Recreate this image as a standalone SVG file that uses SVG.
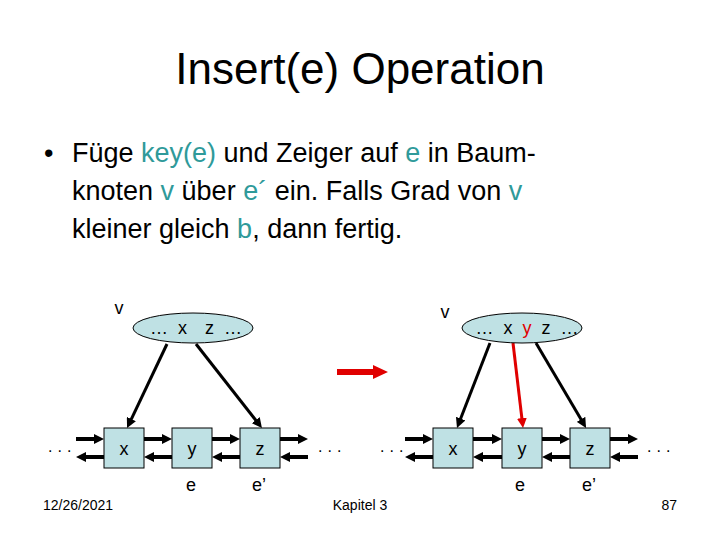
<svg xmlns="http://www.w3.org/2000/svg" width="720" height="540" viewBox="0 0 720 540">
<style>
text{font-family:"Liberation Sans",Arial,sans-serif;fill:#000}
.title{font-size:44px}
.body{font-size:27px}
.hl{fill:#2F9A9A}
.foot{font-size:14px}
.lbl{font-size:18px}
.en{font-size:18px;word-spacing:5px}
.dots{font-size:16px;letter-spacing:5px}
.node{fill:#BFE1E4;stroke:#000;stroke-width:1}
.la{stroke:#000;stroke-width:4;fill:none;marker-end:url(#ah)}
.ta{stroke:#000;stroke-width:3;fill:none;marker-end:url(#ah)}
.ra{stroke:#E00000;stroke-width:3;fill:none;marker-end:url(#ahr)}
</style>
<defs>
<marker id="ah" viewBox="0 0 10 10" markerWidth="10" markerHeight="10" markerUnits="userSpaceOnUse" refX="2" refY="5" orient="auto"><path d="M0,0 L10,5 L0,10 z" fill="#000"/></marker>
<marker id="ahr" viewBox="0 0 10 10" markerWidth="10" markerHeight="10" markerUnits="userSpaceOnUse" refX="2" refY="5" orient="auto"><path d="M0,0 L10,5 L0,10 z" fill="#E00000"/></marker>
</defs>
<rect width="720" height="540" fill="#fff"/>
<text class="title" x="360" y="84" text-anchor="middle">Insert(e) Operation</text>
<g class="body">
<text class="body" x="44" y="162">•</text>
<text class="body" x="72" y="162">Füge <tspan class="hl">key(e)</tspan> und Zeiger auf <tspan class="hl">e</tspan> in Baum-</text>
<text class="body" x="72" y="200">knoten <tspan class="hl">v</tspan> über <tspan class="hl">e´</tspan> ein. Falls Grad von <tspan class="hl">v</tspan></text>
<text class="body" x="72" y="238">kleiner gleich <tspan class="hl">b</tspan>, dann fertig.</text>
</g>
<g id="connectors">
<line class="la" x1="76" y1="439" x2="96" y2="439"/>
<line class="la" x1="144" y1="439" x2="164" y2="439"/>
<line class="la" x1="212" y1="439" x2="232" y2="439"/>
<line class="la" x1="280" y1="439" x2="300" y2="439"/>
<line class="la" x1="104" y1="457" x2="84" y2="457"/>
<line class="la" x1="172" y1="457" x2="152" y2="457"/>
<line class="la" x1="240" y1="457" x2="220" y2="457"/>
<line class="la" x1="308" y1="457" x2="288" y2="457"/>
<line class="ta" x1="167" y1="344" x2="130.5" y2="420.8"/>
<line class="ta" x1="196" y1="344" x2="257" y2="421.7"/>
<line class="la" x1="405" y1="439" x2="425" y2="439"/>
<line class="la" x1="473" y1="439" x2="494" y2="439"/>
<line class="la" x1="542" y1="439" x2="562" y2="439"/>
<line class="la" x1="610" y1="439" x2="630" y2="439"/>
<line class="la" x1="433" y1="457" x2="413" y2="457"/>
<line class="la" x1="502" y1="457" x2="481" y2="457"/>
<line class="la" x1="570" y1="457" x2="550" y2="457"/>
<line class="la" x1="638" y1="457" x2="618" y2="457"/>
<line class="ta" x1="490" y1="343" x2="459.9" y2="420.5"/>
<line class="ra" x1="513" y1="343" x2="522.1" y2="420.1"/>
<line class="ta" x1="536" y1="343" x2="582" y2="421.1"/>
</g>
<g id="v-left">
<ellipse class="node" cx="193" cy="328" rx="60" ry="15"/>
<text class="en" x="196" y="334" text-anchor="middle">… x <tspan dx="8">z</tspan> …</text>
<text class="lbl" x="119" y="314" text-anchor="middle">v</text>
</g>
<g id="x-left"><rect class="node" x="104" y="428" width="40" height="40"/><text class="lbl" x="124" y="455" text-anchor="middle">x</text></g>
<g id="y-left"><rect class="node" x="172" y="428" width="40" height="40"/><text class="lbl" x="192" y="455" text-anchor="middle">y</text><text class="lbl" x="191" y="491" text-anchor="middle">e</text></g>
<g id="z-left"><rect class="node" x="240" y="428" width="40" height="40"/><text class="lbl" x="260" y="455" text-anchor="middle">z</text><text class="lbl" x="259" y="491" text-anchor="middle">e’</text></g>
<text class="dots" x="48" y="452">...</text>
<text class="dots" x="318" y="452">...</text>
<polygon points="337,369 373,369 373,365 388,372 373,379 373,375 337,375" fill="#E00000"/>
<g id="v-right">
<ellipse class="node" cx="522" cy="328" rx="60" ry="15"/>
<text class="en" x="527" y="334" text-anchor="middle">… x <tspan fill="#E00000">y</tspan> z …</text>
<text class="lbl" x="445" y="318" text-anchor="middle">v</text>
</g>
<g id="x-right"><rect class="node" x="433" y="428" width="40" height="40"/><text class="lbl" x="453" y="455" text-anchor="middle">x</text></g>
<g id="y-right"><rect class="node" x="502" y="428" width="40" height="40"/><text class="lbl" x="522" y="455" text-anchor="middle">y</text><text class="lbl" x="520" y="491" text-anchor="middle">e</text></g>
<g id="z-right"><rect class="node" x="570" y="428" width="40" height="40"/><text class="lbl" x="590" y="455" text-anchor="middle">z</text><text class="lbl" x="589" y="491" text-anchor="middle">e’</text></g>
<text class="dots" x="380" y="452">...</text>
<text class="dots" x="647" y="452">...</text>
<text class="foot" x="43" y="510">12/26/2021</text>
<text class="foot" x="360" y="510" text-anchor="middle">Kapitel 3</text>
<text class="foot" x="677" y="510" text-anchor="end">87</text>
</svg>
